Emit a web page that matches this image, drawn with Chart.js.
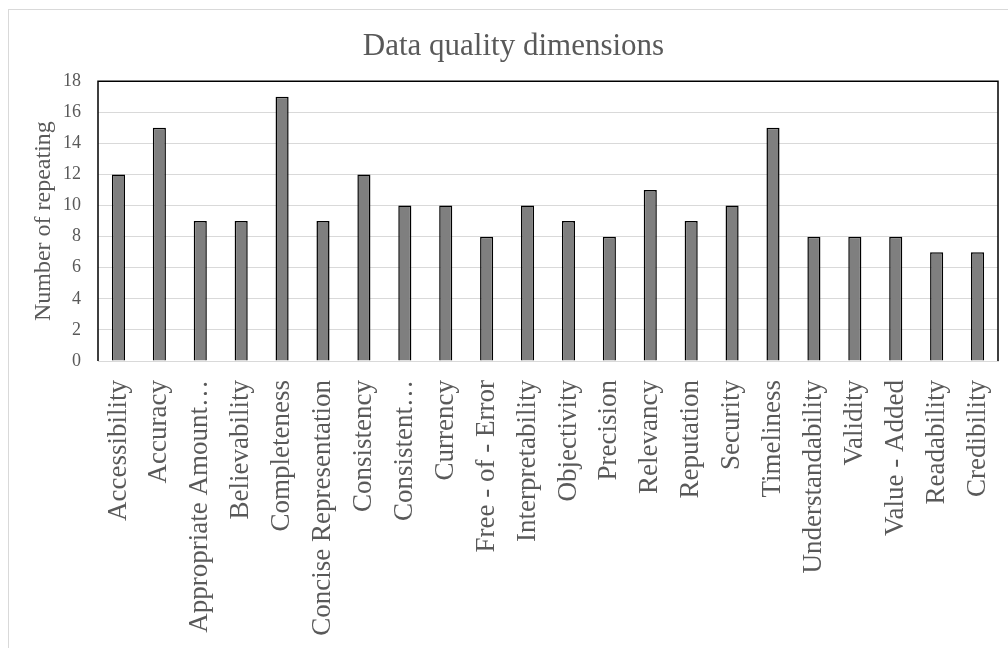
<!DOCTYPE html>
<html>
<head>
<meta charset="utf-8">
<script src="https://cdn.jsdelivr.net/npm/chart.js@4/dist/chart.umd.min.js"></script>
<style>
  html, body { margin: 0; padding: 0; background: #fff; overflow: hidden; }
  #frame { position: absolute; left: 8px; top: 9px; width: 1100px; height: 700px; border: 1px solid #d9d9d9; }
  #wrap { position: absolute; left: 0; top: 0; width: 1008px; height: 648px; }
</style>
</head>
<body>
<div id="frame"></div>
<div id="wrap"><canvas id="qualityChart"></canvas></div>
<script>
// dimensions and how often each one was repeated
const dimensions = [
    'Accessibility', 'Accuracy', 'Appropriate Amount…', 'Believability', 'Completeness',
    'Concise Representation', 'Consistency', 'Consistent…', 'Currency', 'Free - of - Error',
    'Interpretability', 'Objectivity', 'Precision', 'Relevancy', 'Reputation', 'Security',
    'Timeliness', 'Understandability', 'Validity', 'Value - Added', 'Readability', 'Credibility'
];
const repeats = [12, 15, 9, 9, 17, 9, 12, 10, 10, 8, 10, 9, 8, 11, 9, 10, 15, 8, 8, 8, 7, 7];
const yTicks = [0, 2, 4, 6, 8, 10, 12, 14, 16, 18];

const textColor = '#595959';
const serif = "'Liberation Serif', 'Times New Roman', serif";

// black frame on top, left and right of the plot area
const plotFrame = {
    id: 'plotFrame',
    afterDraw(chart) {
        const a = chart.chartArea;
        const ctx = chart.ctx;
        ctx.save();
        ctx.strokeStyle = '#000';
        ctx.lineWidth = 1.5;
        ctx.beginPath();
        ctx.moveTo(a.left, a.bottom);
        ctx.lineTo(a.left, a.top);
        ctx.lineTo(a.right, a.top);
        ctx.lineTo(a.right, a.bottom);
        ctx.stroke();
        ctx.restore();
    }
};

const ctx = document.getElementById('qualityChart').getContext('2d');
new Chart(ctx, {
    type: 'bar',
    data: {
        labels: dimensions,
        datasets: [{
            label: 'Number of repeating',
            data: repeats,
            backgroundColor: '#7f7f7f',
            borderColor: '#000',
            borderWidth: 1.5,
            barPercentage: 0.32,
            categoryPercentage: 1
        }]
    },
    options: {
        responsive: true,
        maintainAspectRatio: false,
        animation: false,
        layout: { padding: { left: 29, right: 10, top: 0, bottom: 0 } },
        plugins: {
            legend: { display: false },
            tooltip: { enabled: false },
            title: {
                display: true,
                text: 'Data quality dimensions',
                color: textColor,
                font: { family: serif, size: 31, weight: 'normal', lineHeight: 1.2 },
                padding: { top: 28, bottom: 16 }
            }
        },
        scales: {
            x: {
                grid: { display: false, drawTicks: false },
                border: { color: '#d9d9d9', width: 1 },
                ticks: {
                    color: textColor,
                    font: { family: serif, size: 27 },
                    minRotation: 90,
                    maxRotation: 90,
                    autoSkip: false,
                    padding: 19
                },
                afterFit(scale) {
                    scale.paddingLeft = 0;
                    scale.paddingRight = 0;
                    scale.height = 287;
                }
            },
            y: {
                min: 0,
                max: 18,
                afterBuildTicks(axis) {
                    axis.ticks = yTicks.map(v => ({ value: v }));
                },
                afterFit(scale) {
                    scale.width = 69;
                },
                grid: { color: '#d9d9d9', lineWidth: 1, drawTicks: false },
                border: { display: false },
                ticks: {
                    color: textColor,
                    font: { family: serif, size: 18 },
                    padding: 17
                },
                title: {
                    display: true,
                    text: 'Number of repeating',
                    color: textColor,
                    font: { family: serif, size: 24 },
                    padding: { top: 0, bottom: 0 }
                }
            }
        }
    },
    plugins: [plotFrame]
});
</script>
</body>
</html>
